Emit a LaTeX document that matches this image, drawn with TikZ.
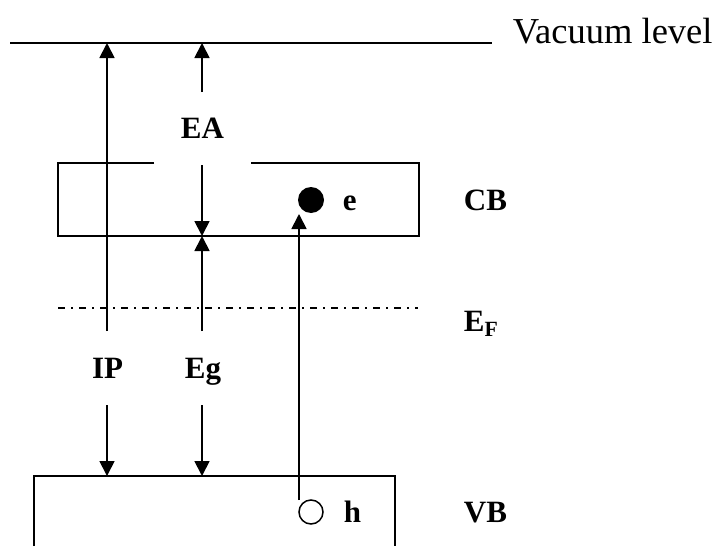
\documentclass[tikz,border=0pt]{standalone}
\usepackage{fontspec}
\setmainfont{Liberation Serif}
\usetikzlibrary{arrows.meta}

\begin{document}
\begin{tikzpicture}[x=1pt, y=-1pt, line width=1.8pt,
        arr/.style={draw, -{Triangle[length=15pt, width=15pt]}},
        lbl/.style={font=\fontsize{31}{36}\selectfont\bfseries, inner sep=0pt}]
                \useasboundingbox (0,0) rectangle (717,546);
                % vacuum level
                \coordinate(VL)at(10,43);
                \coordinate(VR)at(492,43);
                \path[draw](VL)to(VR);
                \node[anchor=base west, inner sep=0pt, font=\fontsize{36.5}{42}\selectfont](vac)at(512,43){Vacuum level};

                % conduction band, gap in the top edge under EA
                \path[draw](154,163)--(58,163)--(58,236)--(419,236)--(419,163)--(251,163);
                % fermi level
                \coordinate(FL)at(58,308);
                \coordinate(FR)at(418,308);
                \path[draw, line width=1.5pt, dash pattern=on 7pt off 6pt on 2pt off 6pt](FL)to(FR);
                % valence band, cut off at the bottom
                \path[draw](34,546)--(34,476)--(395,476)--(395,546);

                % IP
                \coordinate(IPa)at(107,331);
                \coordinate(IPb)at(107,405);
                \path[arr](IPa)to(VL-|IPa);
                \path[arr](IPb)to(107,476);
                \node[lbl, anchor=base](ip)at(107.5,378){IP};
                % Eg and EA
                \coordinate(Ega)at(202,331);
                \coordinate(Egb)at(202,405);
                \coordinate(EAa)at(202,92);
                \coordinate(EAb)at(202,165);
                \path[arr](Ega)to(202,236);
                \path[arr](Egb)to(202,476);
                \path[arr](EAa)to(VL-|EAa);
                \path[arr](EAb)to(202,236);
                \node[lbl, anchor=base](eg)at(203,378){Eg};
                \node[lbl, anchor=base](ea)at(202.5,138){EA};

                % electron and hole
                \coordinate(h)at(311,512);
                \coordinate(e)at(311,200);
                \path[fill](e)circle(13);
                \path[draw, line width=1.5pt](h)circle(12);
                \path[arr](299,500)to(299,214);
                \node[lbl, anchor=base west](elab)at(342,210){e};
                \node[lbl, anchor=base west](hlab)at(343,522){h};

                % band names
                \node[lbl, anchor=base west](cb)at(463,210){CB};
                \node[lbl, anchor=base west](ef)at(463,331){E\textsubscript{F}};
                \node[lbl, anchor=base west](vb)at(463,522){VB};
            \end{tikzpicture}
\end{document}
